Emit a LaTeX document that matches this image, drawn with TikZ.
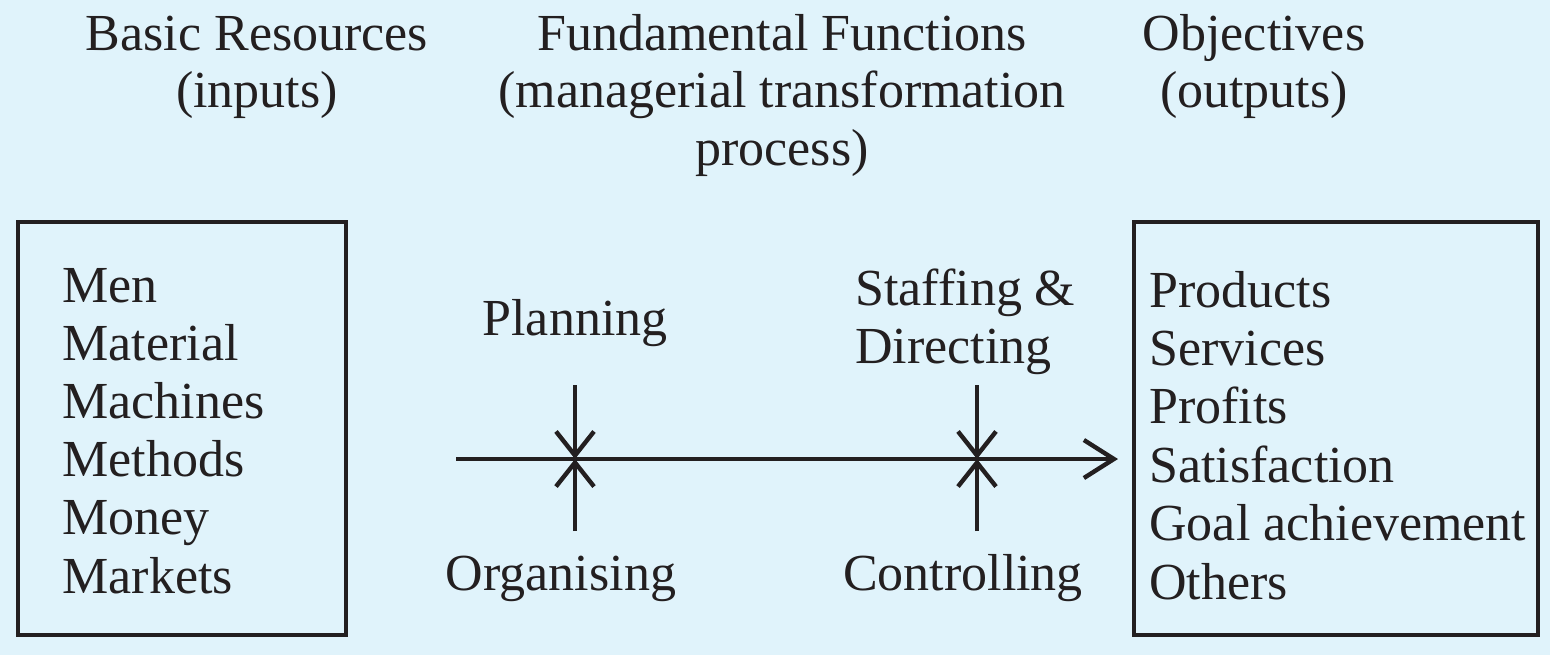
\documentclass[tikz,border=0pt]{standalone}
\usepackage{fontspec}
\setmainfont{Liberation Serif}
\usetikzlibrary{arrows.meta}
\definecolor{bg}{HTML}{E0F3FB}
\definecolor{ink}{HTML}{231F20}
\begin{document}
\begin{tikzpicture}[x=0.5pt,y=-0.5pt,
  txt/.style={inner sep=0pt,text=ink,font=\fontsize{26}{29}\selectfont},
  frame/.style={draw=ink,line width=1.6pt},
  conn/.style={draw=ink,line width=2.2pt},
  vtip/.style={conn,-{Straight Barb[length=12pt,width=19pt]}},
  htip/.style={conn,-{Straight Barb[length=15pt,width=19pt]}}]
\fill[bg] (0,0) rectangle (1550,655);
\useasboundingbox (0,0) rectangle (1550,655);
% headers
\node[txt,anchor=base] (h1a) at (257,50) {Basic Resources};
\node[txt,anchor=base] (h1b) at (257,107) {(inputs)};
\node[txt,anchor=base] (h2a) at (782,50) {Fundamental Functions};
\node[txt,anchor=base] (h2b) at (782,107) {(managerial transformation};
\node[txt,anchor=base] (h2c) at (782,165) {process)};
\node[txt,anchor=base] (h3a) at (1254,50) {Objectives};
\node[txt,anchor=base] (h3b) at (1254,107) {(outputs)};
% boxes
\draw[frame] (18,222) rectangle (346,635);
\draw[frame] (1134,222) rectangle (1538,635);
\foreach \t [count=\i] in {Men,Material,Machines,Methods,Money,Markets}
  \node[txt,anchor=base west] (L\i) at (62,{302+58.2*(\i-1)}) {\t};
\foreach \t [count=\i] in {Products,Services,Profits,Satisfaction,Goal achievement,Others}
  \node[txt,anchor=base west] (R\i) at (1149,{307+58.4*(\i-1)}) {\t};
% function labels
\node[txt,anchor=base] (plan) at (575,335) {Planning};
\node[txt,anchor=base] (org) at (561,590) {Organising};
\node[txt,anchor=base west] (staff1) at (855,305) {Staffing \&};
\node[txt,anchor=base west] (staff2) at (855,363) {Directing};
\node[txt,anchor=base] (ctrl) at (963,590) {Controlling};
% connectors
\coordinate (start) at (456,459);
\coordinate (end) at (1118,459);
\coordinate (p1) at (575,459);
\coordinate (p1t) at (575,385);
\coordinate (p1b) at (575,531);
\coordinate (p2) at (977,459);
\coordinate (p2t) at (977,385);
\coordinate (p2b) at (977,531);
\draw[htip] (start) -- (end);
\draw[vtip] (p1t) -- (p1);
\draw[vtip] (p1b) -- (p1);
\draw[vtip] (p2t) -- (p2);
\draw[vtip] (p2b) -- (p2);
\end{tikzpicture}
\end{document}
